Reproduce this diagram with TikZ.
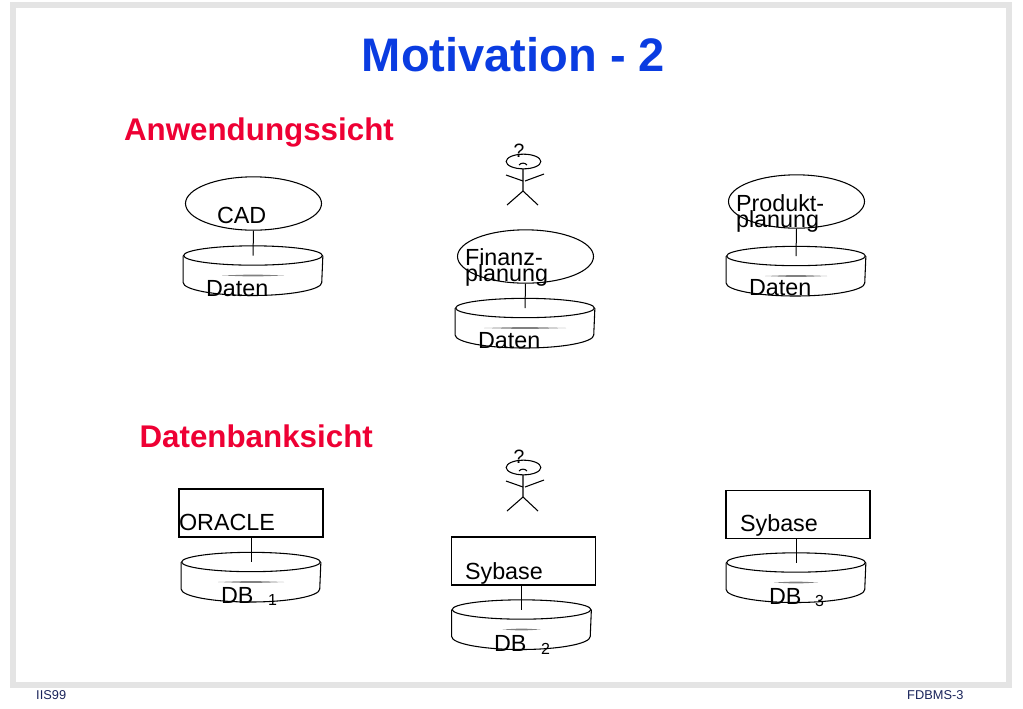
\documentclass[tikz,border=0pt]{standalone}
\usepackage{fontspec}
\setmainfont{Liberation Sans}
\usetikzlibrary{shapes.geometric}
\definecolor{titleblue}{RGB}{10,60,225}
\definecolor{headred}{RGB}{238,0,52}
\definecolor{framegray}{RGB}{228,228,228}
\definecolor{footnavy}{RGB}{25,35,90}
\begin{document}
\begin{tikzpicture}[x=0.75pt,y=-0.75pt,line width=0.8pt]
        % styles
        \tikzstyle{title}=[anchor=base, text=titleblue, font=\bfseries\fontsize{35.3}{37}\selectfont, inner sep=0pt]
        \tikzstyle{heading}=[anchor=base west, text=headred, font=\bfseries\fontsize{23.5}{25}\selectfont, inner sep=0pt]
        \tikzstyle{lbl}=[anchor=base west, font=\fontsize{17.5}{18}\selectfont, inner sep=0pt]
        \tikzstyle{sub}=[anchor=base west, font=\fontsize{12}{13}\selectfont, inner sep=0pt]
        \tikzstyle{foot}=[anchor=base west, text=footnavy, font=\fontsize{9.6}{10}\selectfont, inner sep=0pt]
        \tikzstyle{app}=[ellipse, draw, minimum width=102pt, minimum height=40pt, inner sep=0pt]
        \tikzstyle{dbms}=[rectangle, draw, minimum width=108pt, minimum height=36pt, inner sep=0pt]
        \tikzstyle{disc}=[ellipse, draw, minimum width=104pt, minimum height=14.5pt, inner sep=0pt]
        \tikzstyle{link}=[-, line width=0.75pt]

        % page and frame
        \useasboundingbox (0,0) rectangle (1023,708);
        \fill[white] (0,0) rectangle (1023,708);
        \draw[framegray, line width=4.5pt] (12.5,4.5) rectangle (1009,684.5);

        % headings
        \node[title] (title) at (513.5,71) {Motivation - 2};
        \node[heading] (anwendung) at (123.5,140) {Anwendungssicht};
        \node[heading] (datenbank) at (139,447) {Datenbanksicht};

        % discs
        \foreach \name/\x/\y/\w in {dcad/253/255.5/31, dfin/525/308/41, dprod/796/256/31, dora/251/562/33, dsybb/521.5/609.5/19, dsybc/796/562.5/22} {
            \node[disc] (\name) at (\x,\y) {};
            \draw (\name.west) -- ++(0,27) arc[start angle=180, end angle=0, x radius=69.3, y radius=13] -- (\name.east);
            \fill[gray] (\x-\w,\y+20) .. controls (\x,\y+18.8) .. (\x+\w,\y+20) .. controls (\x,\y+21.2) .. cycle;
        }

        % applications
        \node[app] (cad) at (253.5,203.5) {};
        \node[app] (fin) at (525.5,256.5) {};
        \node[app] (prod) at (796.5,201.5) {};

        % database systems
        \node[dbms] (ora) at (251,513) {};
        \node[dbms] (sybb) at (523.5,561) {};
        \node[dbms] (sybc) at (798,514.5) {};

        % links
        \draw[link] (cad.south) -- (dcad.center);
        \draw[link] (fin.south) -- (dfin.center);
        \draw[link] (prod.south) -- (dprod.center);
        \draw[link] (dora.center |- ora.south) -- (dora.center);
        \draw[link] (dsybb.center |- sybb.south) -- (dsybb.center);
        \draw[link] (dsybc.center |- sybc.south) -- (dsybc.center);

        % labels
        \node[lbl] (lcad) at (216.5,223) {CAD};
        \node[lbl] (lfina) at (464.5,265) {Finanz-};
        \node[lbl] (lfinb) at (464.5,281) {planung};
        \node[lbl] (lproda) at (735.5,211) {Produkt-};
        \node[lbl] (lprodb) at (735.5,227) {planung};
        \node[lbl] (ldcad) at (205.5,296) {Daten};
        \node[lbl] (ldfin) at (477.5,348) {Daten};
        \node[lbl] (ldprod) at (748.5,295) {Daten};
        \node[lbl] (lora) at (178.5,530) {ORACLE};
        \node[lbl] (lsybb) at (464.5,579) {Sybase};
        \node[lbl] (lsybc) at (739.5,531) {Sybase};
        \node[lbl] (ldba) at (220.5,603) {DB};
        \node[sub] (sdba) at (267.5,605) {1};
        \node[lbl] (ldbb) at (493.5,651) {DB};
        \node[sub] (sdbb) at (540.5,654) {2};
        \node[lbl] (ldbc) at (768.5,604) {DB};
        \node[sub] (sdbc) at (814.5,606) {3};

        % users
        \foreach \who/\dy in {ua/0, ub/306} {
            \node[ellipse, draw, minimum width=26pt, minimum height=11pt, inner sep=0pt] (\who) at (523.5,161.5+\dy) {};
            \node[anchor=base, font=\fontsize{14.5}{15}\selectfont, inner sep=0pt] (\who q) at (519,157.5+\dy) {?};
            \draw (519,165+\dy) .. controls (521,162.5+\dy) and (525,162.5+\dy) .. (527,165+\dy);
            \draw (523,169+\dy) -- (523,191+\dy) -- (507,205+\dy);
            \draw (523,191+\dy) -- (538,205+\dy);
            \draw (506,175+\dy) -- (523,181+\dy);
            \draw (525,181+\dy) -- (544,174+\dy);
        }

        % footer
        \node[foot] (fl) at (35.7,699) {IIS99};
        \node[foot] (fr) at (906.7,699) {FDBMS-3};
    \end{tikzpicture}
\end{document}
